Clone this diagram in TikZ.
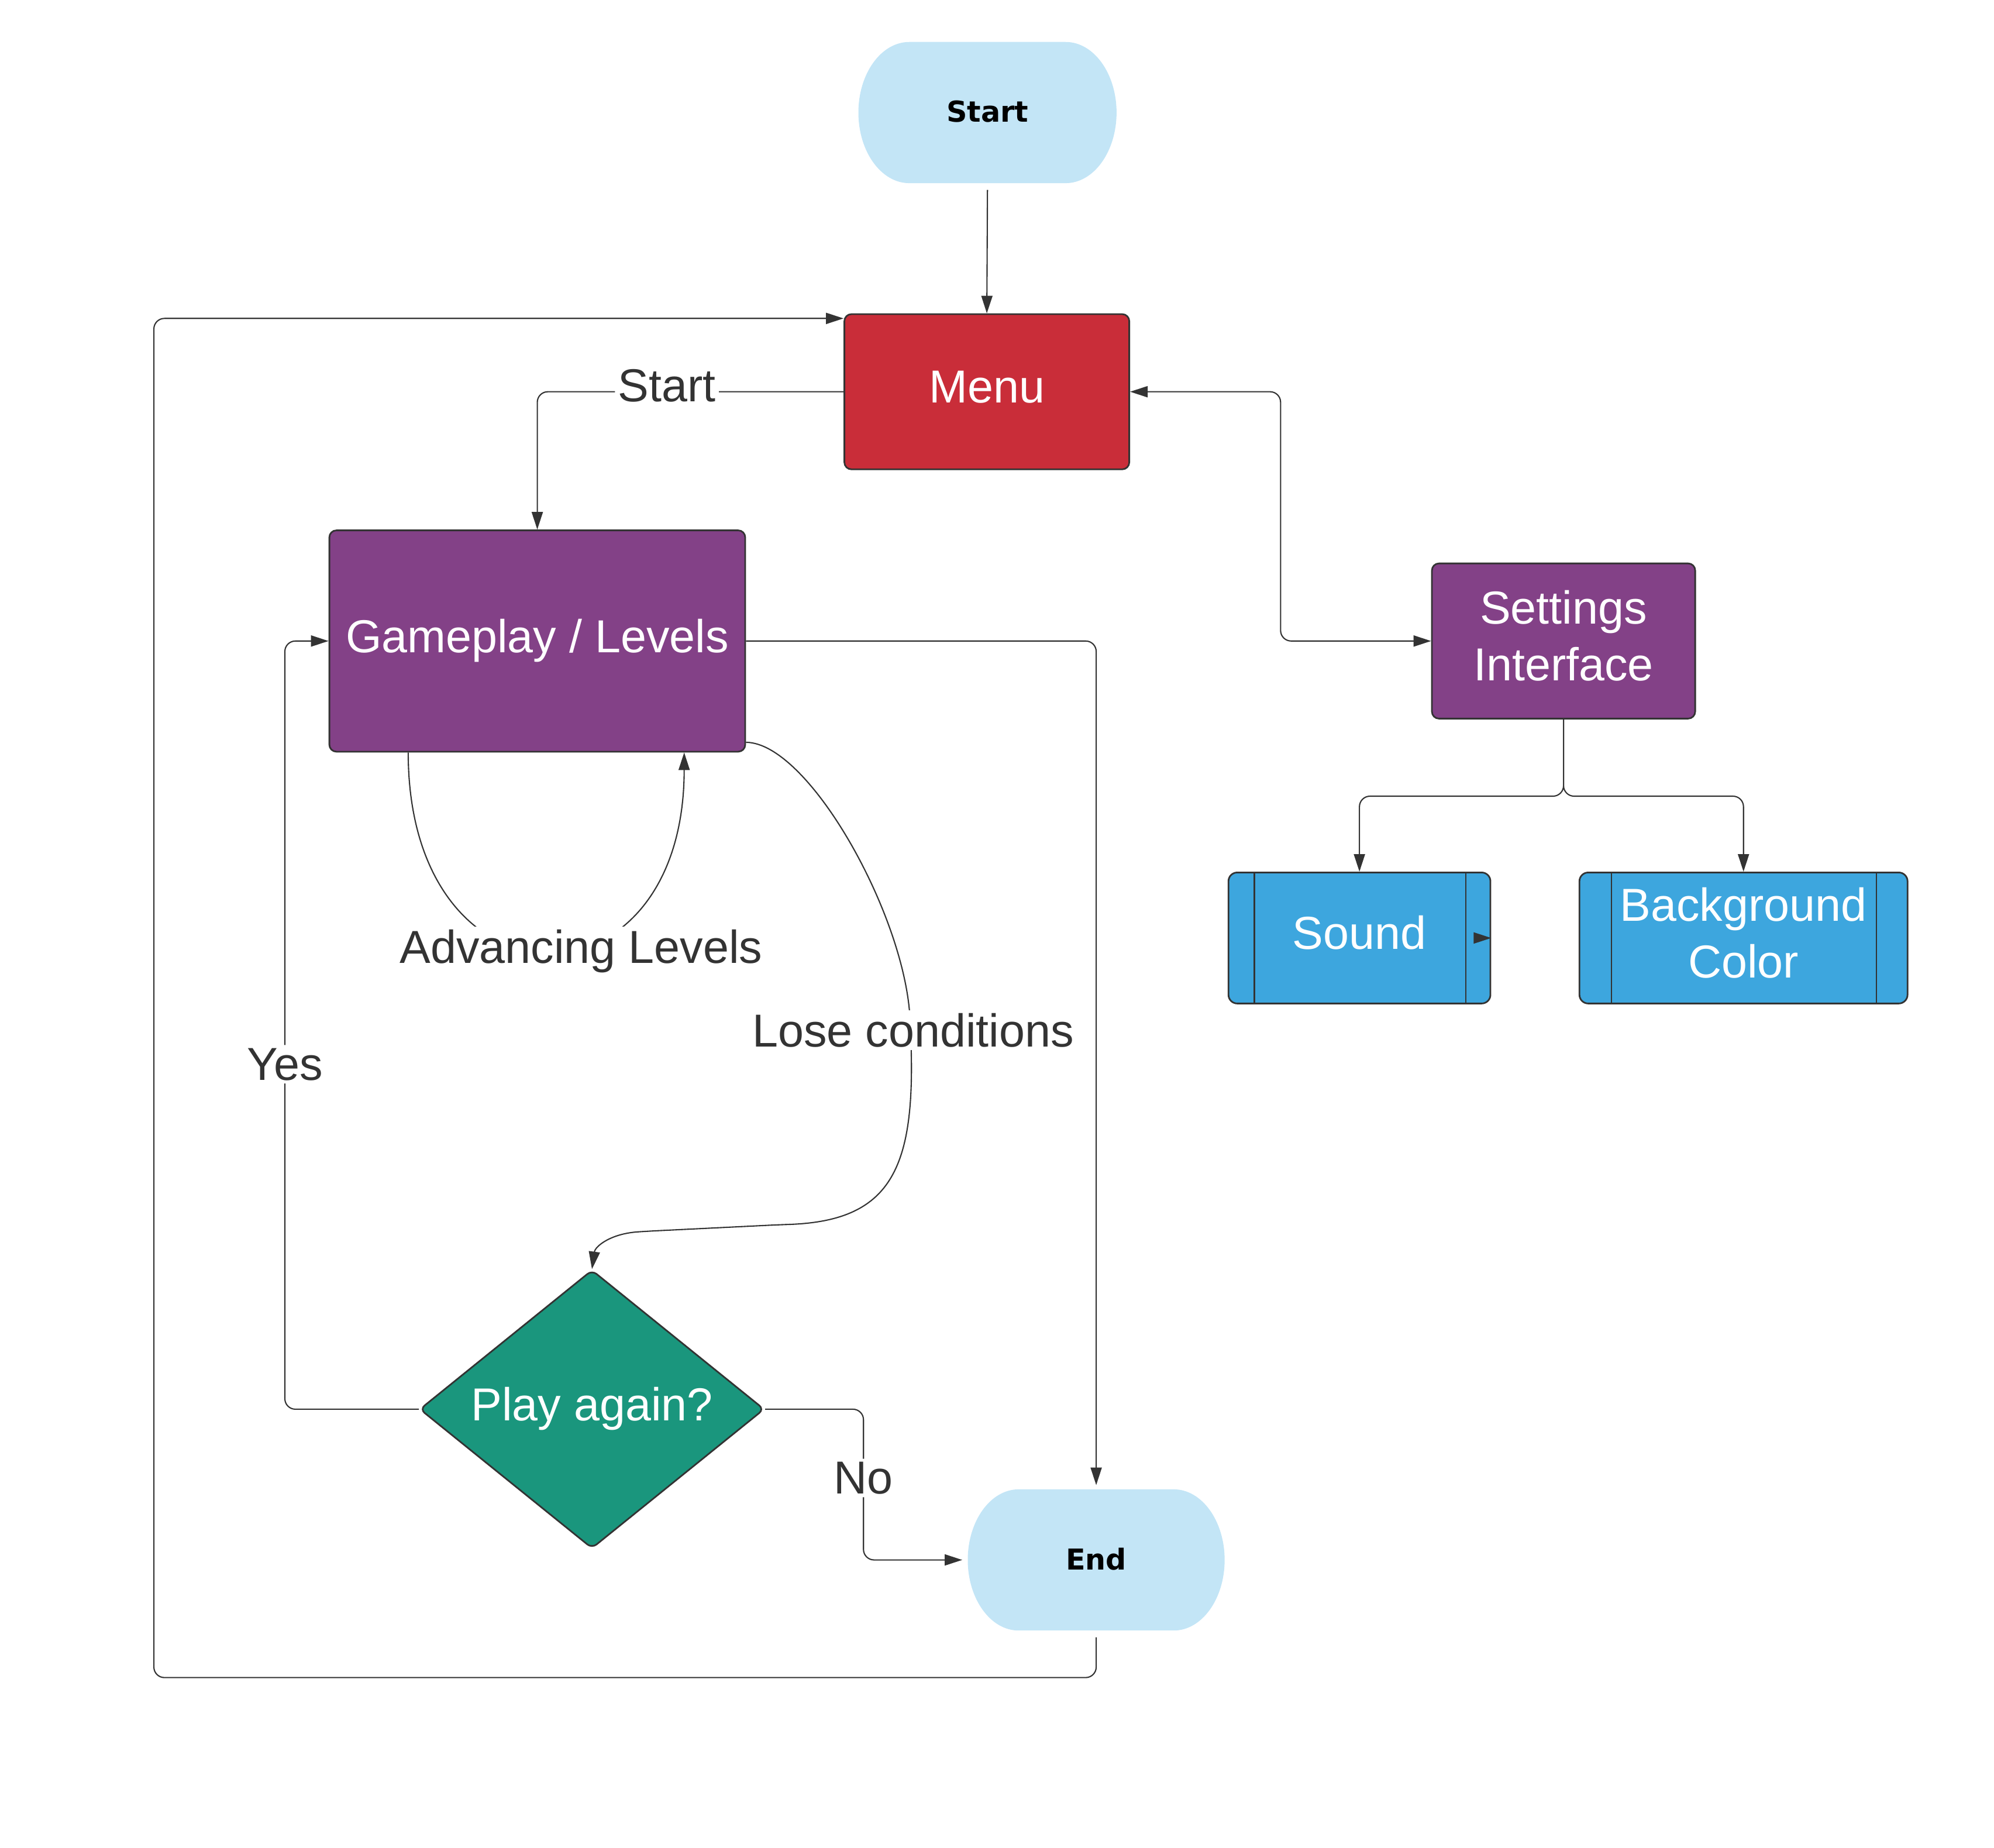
\documentclass[tikz,border=0pt]{standalone}
\usepackage{fontspec}
\setmainfont{Liberation Sans}
\newfontfamily\termfont{DejaVu Sans}
\usetikzlibrary{arrows.meta,shapes.geometric,calc}
\definecolor{lineC}{HTML}{333333}
\definecolor{termC}{HTML}{C3E5F6}
\definecolor{redC}{HTML}{C92D39}
\definecolor{purpC}{HTML}{834187}
\definecolor{blueC}{HTML}{3DA6DE}
\definecolor{tealC}{HTML}{1A967D}
\def\U{0.02174cm}
\newcommand\tx[1]{\begin{tabular}{@{}c@{}}#1\end{tabular}}
\begin{document}
\begin{tikzpicture}[x=0.02174cm,y=-0.02174cm,
  mainfont/.style={font=\fontsize{22.5}{27.5}\selectfont},
  box/.style={draw=lineC, line width=0.8pt, rounded corners=0.12cm, text=white, mainfont, inner sep=0pt},
  subbox/.style={box, fill=blueC, rounded corners=0.15cm},
  termtext/.style={inner sep=0pt, text=black, font=\termfont\bfseries\fontsize{14}{16}\selectfont},
  lbl/.style={fill=white, text=lineC, mainfont, inner sep=1.5pt},
  conn/.style={draw=lineC, line width=0.6pt, rounded corners=0.18cm, -{Triangle[length=0.3cm,width=0.19cm]}},
  dconn/.style={conn, {Triangle[length=0.3cm,width=0.19cm]}-{Triangle[length=0.3cm,width=0.19cm]}},
  thin/.style={draw=lineC, line width=0.6pt}
]
\useasboundingbox (0,0) rectangle (1568,1452.6);

% terminals
\fill[termC] (715,33) -- (838,33) arc[start angle=90,end angle=-90,x radius=40*\U,y radius=55.5*\U] -- (715,144) arc[start angle=270,end angle=90,x radius=40*\U,y radius=55.5*\U] -- cycle;
\node[termtext, minimum width=203*\U, minimum height=111*\U] (start) at (776.5,88.5) {\raisebox{0.05cm}{Start}};

\fill[termC] (801,1171) -- (923,1171) arc[start angle=90,end angle=-90,x radius=40*\U,y radius=55.5*\U] -- (801,1282) arc[start angle=270,end angle=90,x radius=40*\U,y radius=55.5*\U] -- cycle;
\node[termtext, minimum width=202*\U, minimum height=111*\U] (end) at (862,1226.5) {\raisebox{0.04cm}{End}};

% boxes
\node[box, fill=redC, minimum width=224*\U, minimum height=122*\U] (menu) at (776,308) {\tx{Menu}};
\node[box, fill=purpC, minimum width=327*\U, minimum height=174*\U] (game) at (422.5,504) {\tx{Gameplay / Levels}};
\node[box, fill=purpC, minimum width=207*\U, minimum height=122*\U] (settings) at (1229.5,504) {\tx{Settings\\Interface}};
\node[subbox, minimum width=206*\U, minimum height=103*\U] (sound) at (1069,737.5) {\tx{Sound}};
\node[subbox, minimum width=258*\U, minimum height=103*\U] (bg) at (1371,737.5) {\tx{Background\\Color}};
\draw[thin] ([xshift=21*\U]sound.north west) -- ([xshift=21*\U]sound.south west);
\draw[thin] ([xshift=-20*\U]sound.north east) -- ([xshift=-20*\U]sound.south east);
\draw[thin] ([xshift=26*\U]bg.north west) -- ([xshift=26*\U]bg.south west);
\draw[thin] ([xshift=-25*\U]bg.north east) -- ([xshift=-25*\U]bg.south east);

\node[diamond, draw=lineC, line width=0.8pt, fill=tealC, shape aspect=1.237, minimum width=271*\U, minimum height=219*\U, inner sep=0pt, rounded corners=0.1cm, text=white, mainfont] (play) at (465.5,1108) {\tx{Play again?}};

% connectors
\draw[conn] ([yshift=-5*\U]start.south) -- (menu.north);
\draw[conn] (menu.west) -- node[lbl,pos=0.577,yshift=0.1cm]{Start} (game.north |- menu.west) -- (game.north);
\draw[dconn] (menu.east) -- (1007,308) |- (settings.west);
\coordinate (junc) at (1229.5,626);
\draw[conn] (settings.south) -- (junc) -| (sound.north);
\draw[conn] (settings.south) -- (junc) -| (bg.north);
\draw[conn] ([xshift=-13*\U]sound.east) -- (sound.east);
\draw[conn] (game.east) -| ([yshift=3*\U]end.north);
\draw[conn] ([yshift=-5*\U]end.south) -- (862,1319) -- (121,1319) |- ([yshift=-4*\U]menu.north west);
\draw[conn] (play.west) -- (224,1108) -- node[lbl,pos=0.449]{Yes} (224,504) -- (game.west);
\draw[conn] (play.east) -- (679,1108) -- node[lbl,pos=0.456]{No} (679,1226.5) -- ([xshift=-4*\U]end.west);
\draw[conn] ([xshift=-101.5*\U]game.south) .. controls (321,800) and (538,800) .. ([xshift=115.5*\U]game.south);
\node[lbl] (advlbl) at (457,748) {Advancing Levels};
\draw[conn] ([yshift=8*\U]game.south east) .. controls (636,584) and (712,720) .. (716,810) .. controls (720,920) and (700,960) .. (612,963) -- (510,968) .. controls (480,970) and (468,980) .. (play.north);
\node[lbl] (loselbl) at (718,810) {Lose conditions};
\end{tikzpicture}
\end{document}
